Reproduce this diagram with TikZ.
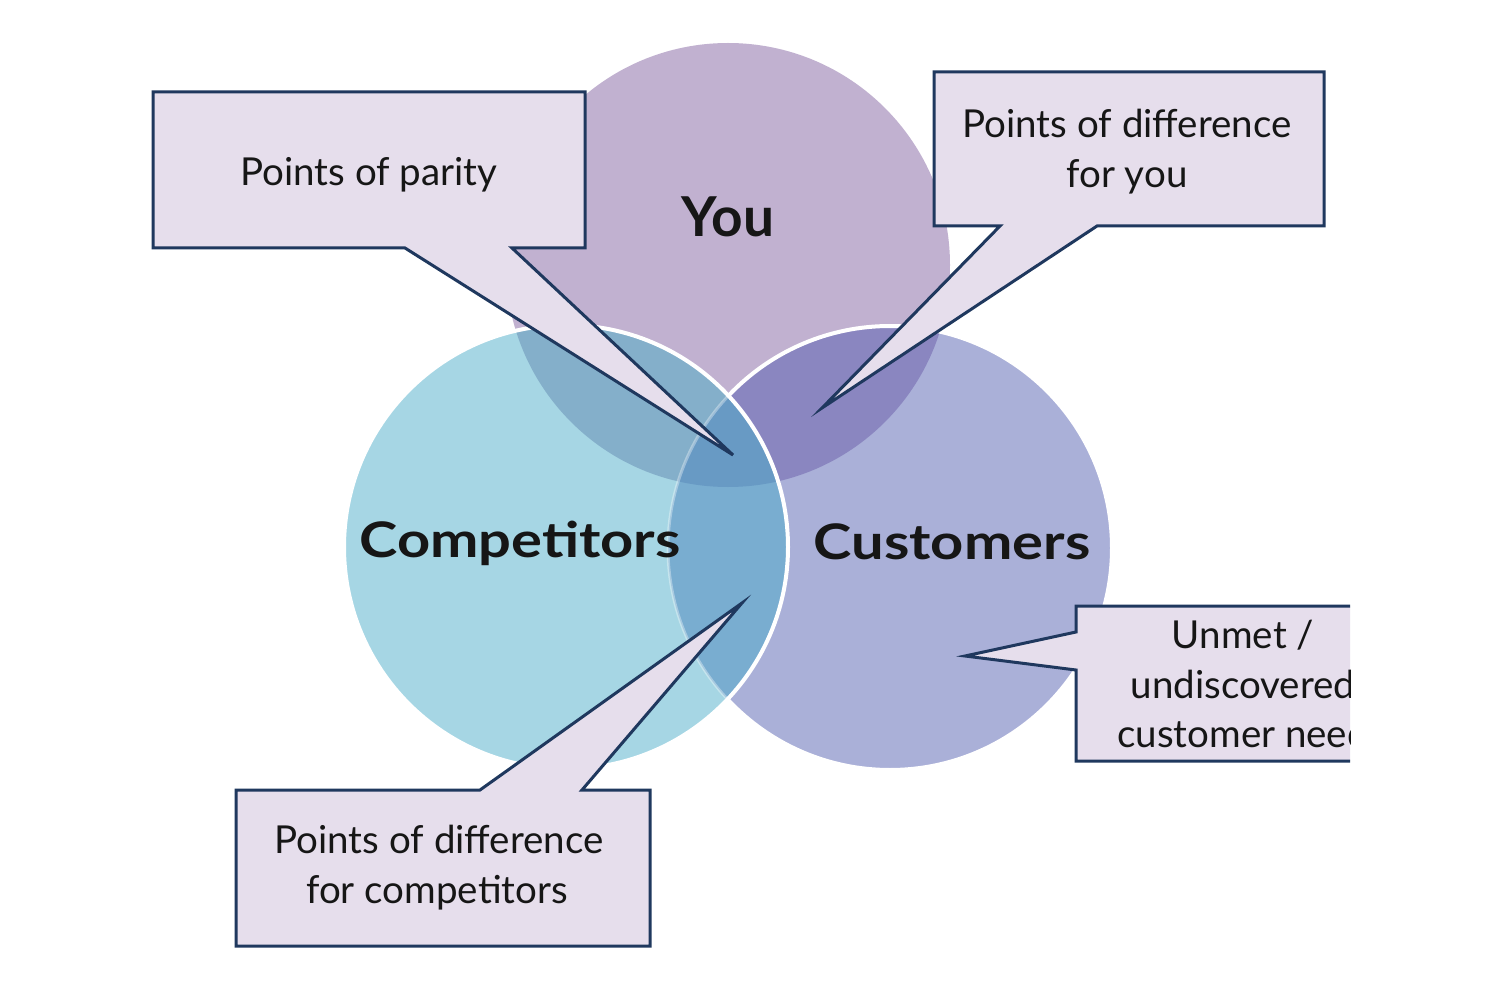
\documentclass[tikz,border=0pt]{standalone}
\usepackage{fontspec}
\setmainfont{Lato}
\newfontfamily\titlefont{Lato}[FakeStretch=1.18]
\newfontfamily\youfont{Lato}
\definecolor{youC}{RGB}{193,177,208}
\definecolor{compC}{RGB}{166,214,228}
\definecolor{custC}{RGB}{170,176,216}
\definecolor{youcomp}{RGB}{132,175,202}
\definecolor{youcust}{RGB}{138,134,192}
\definecolor{compcust}{RGB}{121,173,208}
\definecolor{allthree}{RGB}{104,154,196}
\definecolor{calloutfill}{RGB}{230,222,236}
\definecolor{calloutline}{RGB}{31,56,94}
\definecolor{inkC}{RGB}{22,22,22}
\begin{document}
\begin{tikzpicture}[x=1pt,y=-1pt,
  callout/.style={fill=calloutfill,draw=calloutline,line width=3pt,line join=miter},
  titletext/.style={anchor=base,inner sep=0pt,text=inkC,font=\titlefont\bfseries\fontsize{49}{56}\selectfont},
  bubbletext/.style={anchor=base,inner sep=0pt,text=inkC,font=\fontsize{38.5}{50}\selectfont},
  ring/.style={draw=white,line width=4pt}]
\useasboundingbox (0,0) rectangle (1500,1000);
\fill[white] (0,0) rectangle (1500,1000);
% circles
\coordinate (cy) at (728,265);
\coordinate (cc) at (566,547);
\coordinate (cu) at (890,548);
\fill[youC] (cy) circle[radius=222pt];
\fill[custC] (cu) circle[radius=222pt];
\begin{scope}
  \clip (cy) circle[radius=222pt];
  \fill[youcust] (cu) circle[radius=222pt];
\end{scope}
\draw[ring] (cu) circle[radius=222pt];
\fill[compC] (cc) circle[radius=222pt];
\begin{scope}
  \clip (cy) circle[radius=222pt];
  \fill[youcomp] (cc) circle[radius=222pt];
\end{scope}
\begin{scope}
  \clip (cu) circle[radius=222pt];
  \fill[compcust] (cc) circle[radius=222pt];
\end{scope}
\begin{scope}
  \clip (cy) circle[radius=222pt];
  \clip (cu) circle[radius=222pt];
  \fill[allthree] (cc) circle[radius=222pt];
\end{scope}
\begin{scope}
  \clip (cc) circle[radius=222pt];
  \draw[white,opacity=0.35,line width=3pt] (cu) circle[radius=222pt];
\end{scope}
\draw[ring] (cc) circle[radius=222pt];
% titles
\node[titletext,font=\youfont\bfseries\fontsize{55}{60}\selectfont] (you) at (728,237) {You};
\node[titletext] (competitors) at (520,557) {Competitors};
\node[titletext] (customers) at (952,559) {Customers};
% callouts
\coordinate (tipparity) at (733,455);
\coordinate (tipyou) at (822,408);
\coordinate (tipcomp) at (742,603);
\coordinate (tipneed) at (965,656);
\draw[callout] (153,92) -- (585,92) -- (585,248) -- (512,248) -- (tipparity) -- (405,248) -- (153,248) -- cycle;
\draw[callout] (934,72) -- (1324,72) -- (1324,226) -- (1097,226) -- (tipyou) -- (1000,226) -- (934,226) -- cycle;
\draw[callout] (236,790) -- (480,790) -- (tipcomp) -- (582,790) -- (650,790) -- (650,946) -- (236,946) -- cycle;
\begin{scope}
  \clip (0,0) rectangle (1350,1000);
  \draw[callout] (1076,606) -- (1420,606) -- (1420,761) -- (1076,761) -- (1076,670) -- (tipneed) -- (1076,632) -- cycle;
  \node[bubbletext] (need1) at (1243,648) {Unmet /};
  \node[bubbletext] (need2) at (1243,698) {undiscovered};
  \node[bubbletext] (need3) at (1243,747) {customer need};
\end{scope}
\node[bubbletext] (parity) at (369,186) {Points of parity};
\node[bubbletext] (diffyou1) at (1127,138) {Points of difference};
\node[bubbletext] (diffyou2) at (1127,188) {for you};
\node[bubbletext] (diffcomp1) at (439,853) {Points of difference};
\node[bubbletext] (diffcomp2) at (437,903) {for competitors};
\end{tikzpicture}
\end{document}
